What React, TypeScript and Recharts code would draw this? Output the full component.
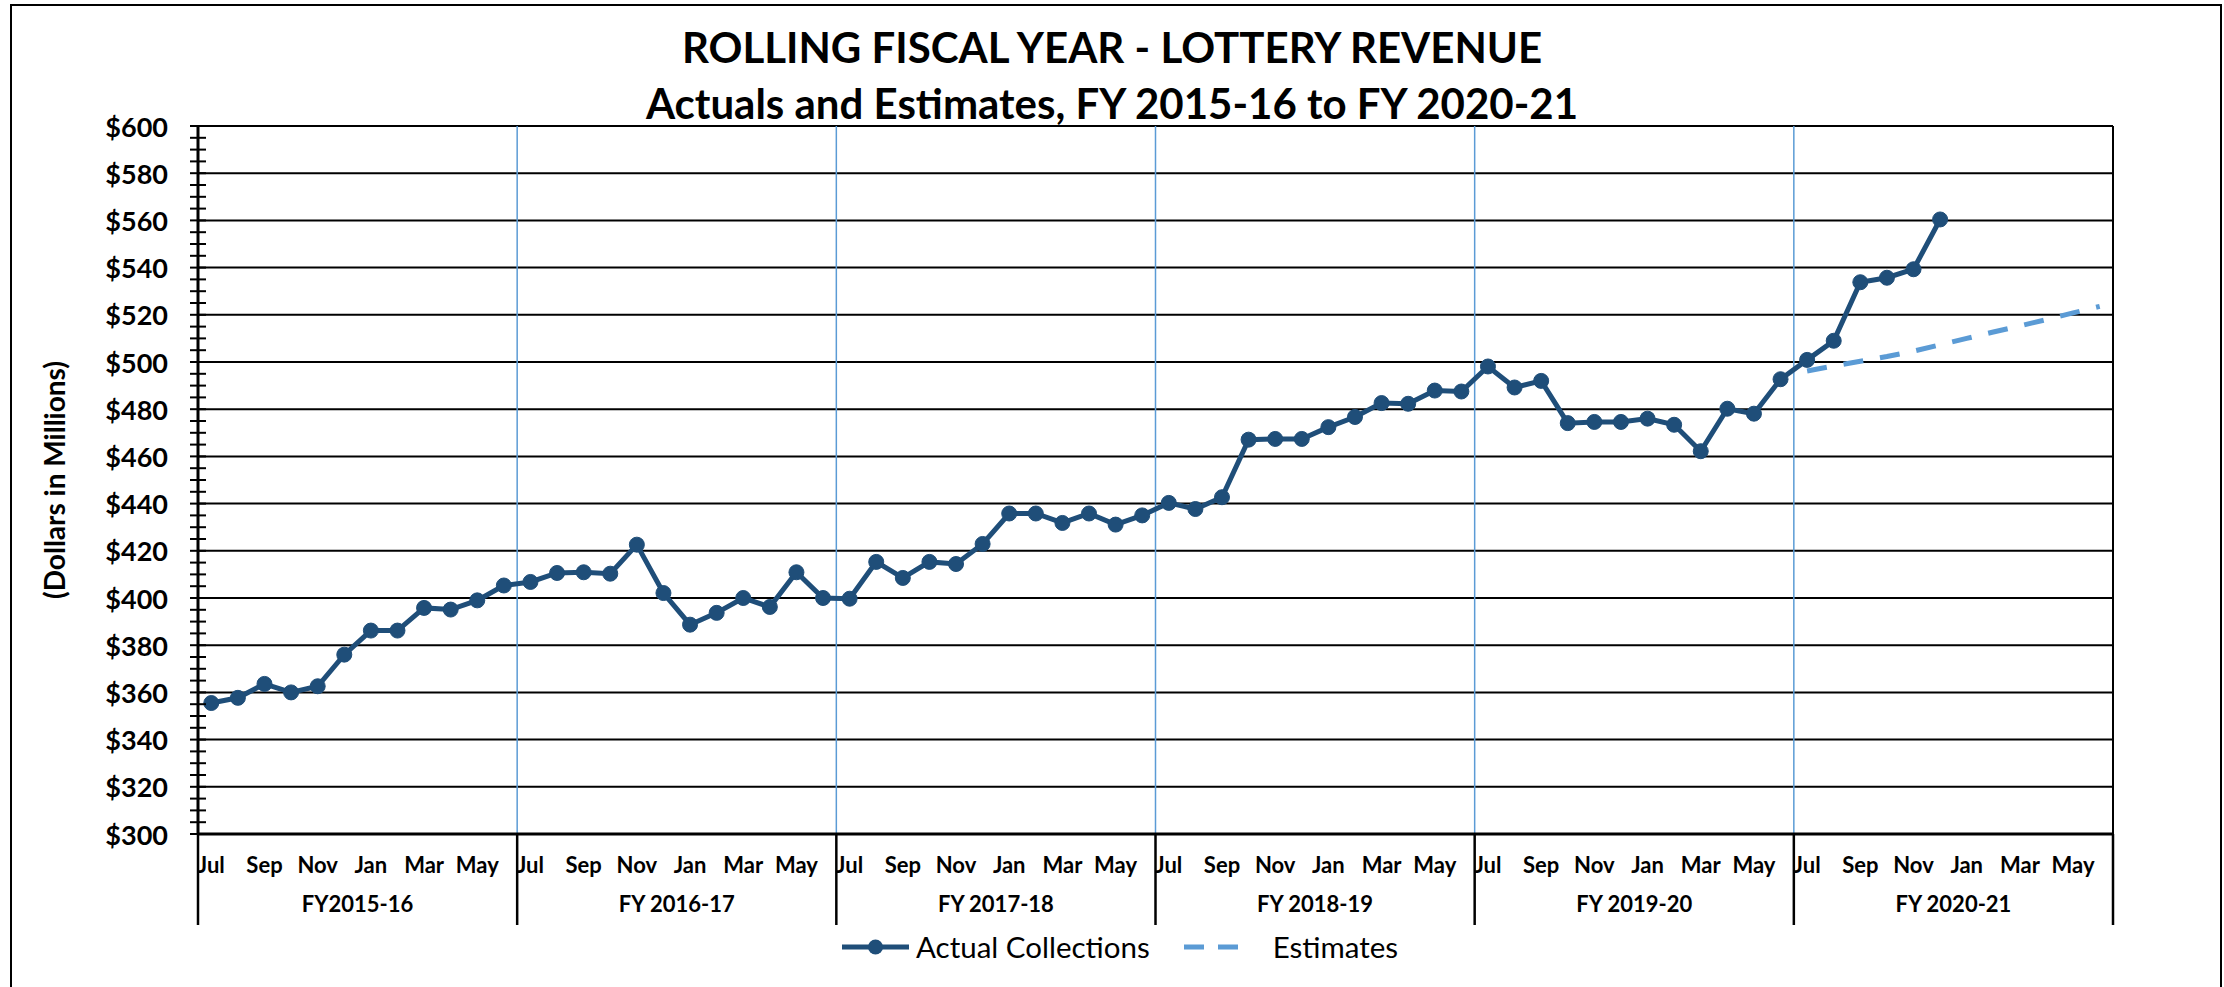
import { Line, LineChart, ReferenceLine, XAxis, YAxis } from "recharts";

const months = ["Jul", "Aug", "Sep", "Oct", "Nov", "Dec", "Jan", "Feb", "Mar", "Apr", "May", "Jun"];
const fiscalYears = ["FY2015-16", "FY 2016-17", "FY 2017-18", "FY 2018-19", "FY 2019-20", "FY 2020-21"];

// rolling 12-month totals, $ millions, Jul 2015 .. Dec 2020
const actualCollections = [
  355.5, 357.7, 363.6, 360.0, 362.6, 376.0, 386.2, 386.2, 395.8, 395.1, 399.0, 405.3,
  406.8, 410.6, 410.9, 410.3, 422.6, 402.1, 388.7, 393.7, 400.0, 396.2, 410.9, 400.0,
  399.7, 415.3, 408.5, 415.3, 414.4, 422.9, 435.8, 435.8, 431.8, 435.8, 431.1, 435.0,
  440.3, 437.7, 442.7, 467.1, 467.4, 467.4, 472.4, 476.7, 482.6, 482.3, 487.9, 487.5,
  498.1, 489.2, 492.0, 474.1, 474.6, 474.6, 476.0, 473.4, 462.2, 480.2, 478.1, 492.7,
  500.9, 509.0, 533.8, 535.7, 539.3, 560.4,
];
// FY 2020-21 estimate, Jul 2020 .. Jun 2021
const estimates = [496.2, 498.3, 500.3, 502.3, 504.6, 507.3, 510.0, 512.7, 515.3, 518.0, 520.8, 523.6];
const estimateStart = 60;

const yTicks = Array.from({ length: 61 }, (_, k) => 300 + k * 5);
const gridValues = [320, 340, 360, 380, 400, 420, 440, 460, 480, 500, 520, 540, 560, 580, 600];

const DARK = "#1F4E79";
const LIGHT = "#5B9BD5";
const FONT = "Lato, 'Open Sans', sans-serif";

const data = Array.from({ length: 72 }, (_, i) => ({
  i,
  actual: i < actualCollections.length ? actualCollections[i] : null,
  estimate: i >= estimateStart ? estimates[i - estimateStart] : null,
}));

const monthTicks = Array.from({ length: 36 }, (_, k) => k * 2);
const fyBounds = fiscalYears.map((_, k) => k * 12 - 0.5).concat([71.5]);
const fyCenters = fiscalYears.map((_, k) => k * 12 + 5.5);
const xTicks = [...monthTicks, ...fyBounds, ...fyCenters];

const XTick = (props: any) => {
  const { x, y, payload } = props;
  const v = payload.value as number;
  if (fyBounds.includes(v)) {
    return <line x1={x} x2={x} y1={y} y2={y + 91} stroke="#000" strokeWidth={2.5} />;
  }
  if (fyCenters.includes(v)) {
    return (
      <text x={x} y={y + 69} textAnchor="middle" dominantBaseline="central" fontSize={22} fontWeight={700} fontFamily={FONT} fill="#000">
        {fiscalYears[(v - 5.5) / 12]}
      </text>
    );
  }
  return (
    <text x={x} y={y + 30} textAnchor="middle" dominantBaseline="central" fontSize={22} fontWeight={700} fontFamily={FONT} fill="#000">
      {months[v % 12]}
    </text>
  );
};

const YTick = (props: any) => {
  const { x, y, payload } = props;
  const v = payload.value as number;
  return (
    <g>
      <line x1={x - 8} x2={x + 8} y1={y} y2={y} stroke="#000" strokeWidth={2} />
      {v % 20 === 0 && (
        <text x={x - 30} y={y} textAnchor="end" dominantBaseline="central" fontSize={27} fontWeight={700} fontFamily={FONT} fill="#000">
          ${v}
        </text>
      )}
    </g>
  );
};

const YTitle = (props: any) => {
  const { viewBox } = props;
  const cx = viewBox.x + 43;
  const cy = viewBox.y + viewBox.height / 2;
  return (
    <text x={cx} y={cy} transform={`rotate(-90 ${cx} ${cy})`} textAnchor="middle" dominantBaseline="central" fontSize={28} fontWeight={700} fontFamily={FONT} fill="#000">
      (Dollars in Millions)
    </text>
  );
};

export default function App() {
  return (
    <div style={{ position: "absolute", left: 0, top: 0, width: 2224, height: 987, background: "#fff", fontFamily: FONT, overflow: "hidden" }}>
      <div style={{ position: "absolute", left: 10, top: 4, width: 2212, height: 1000, border: "2px solid #000", boxSizing: "border-box" }} />
      <div style={{ position: "absolute", left: 0, top: 19, width: 2224, textAlign: "center", fontSize: 42, fontWeight: 700, lineHeight: "56px", color: "#000" }}>
        <div>ROLLING FISCAL YEAR - LOTTERY REVENUE</div>
        <div>Actuals and Estimates, FY 2015-16 to FY 2020-21</div>
      </div>
      <div style={{ position: "absolute", left: 0, top: 0 }}>
        <LineChart width={2224} height={987} data={data} margin={{ top: 126, right: 111, left: 11, bottom: 53 }}>
          <XAxis
            type="number"
            dataKey="i"
            domain={[-0.5, 71.5]}
            ticks={xTicks}
            interval={0}
            allowDecimals
            tickLine={false}
            tickSize={0}
            tickMargin={0}
            axisLine={{ stroke: "#000", strokeWidth: 3 }}
            tick={<XTick />}
            height={100}
          />
          <YAxis
            type="number"
            domain={[300, 600]}
            ticks={yTicks}
            interval={0}
            width={187}
            tickLine={false}
            tickSize={0}
            tickMargin={0}
            axisLine={{ stroke: "#000", strokeWidth: 3 }}
            tick={<YTick />}
            label={<YTitle />}
          />
          {gridValues.map((v) => (
            <ReferenceLine key={v} y={v} stroke="#000" strokeWidth={2} />
          ))}
          {fyBounds.slice(1, -1).map((b) => (
            <ReferenceLine key={b} x={b} stroke={LIGHT} strokeWidth={1.5} />
          ))}
          <ReferenceLine x={71.5} stroke="#000" strokeWidth={2} />
          <Line dataKey="estimate" stroke={LIGHT} strokeWidth={5} strokeDasharray="20 17" dot={false} isAnimationActive={false} />
          <Line
            dataKey="actual"
            stroke={DARK}
            strokeWidth={5}
            dot={{ r: 7.5, fill: DARK, stroke: DARK, strokeWidth: 1 }}
            isAnimationActive={false}
          />
        </LineChart>
      </div>
      <div style={{ position: "absolute", left: 0, top: 929, width: 2240, display: "flex", justifyContent: "center", alignItems: "center", fontSize: 29.5, color: "#000" }}>
        <svg width={67} height={20}>
          <line x1={0} x2={67} y1={10} y2={10} stroke={DARK} strokeWidth={5} />
          <circle cx={33.5} cy={10} r={7.5} fill={DARK} />
        </svg>
        <span style={{ marginLeft: 7 }}>Actual Collections</span>
        <svg width={67} height={20} style={{ marginLeft: 32 }}>
          <line x1={2} x2={67} y1={10} y2={10} stroke={LIGHT} strokeWidth={5} strokeDasharray="20 14" />
        </svg>
        <span style={{ marginLeft: 24 }}>Estimates</span>
      </div>
    </div>
  );
}
